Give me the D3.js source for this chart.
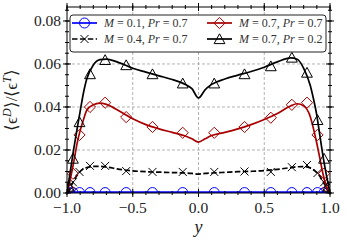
<!DOCTYPE html>
<html>
<head>
<meta charset="utf-8">
<script src="https://cdn.jsdelivr.net/npm/d3@7"></script>
<style>
  body { margin: 0; background: #fff; }
</style>
</head>
<body>
<svg id="chart"></svg>
<script>
const WIDTH = 347;
const HEIGHT = 244;
const FONT = "'Liberation Serif'";

// curve samples (wall-normal coordinate y)
const curveX = [-1, -0.98, -0.95, -0.92, -0.9, -0.87, -0.85, -0.8, -0.75, -0.7, -0.6, -0.5, -0.4, -0.3, -0.2, -0.1, -0.05, 0,
                0.05, 0.1, 0.2, 0.3, 0.4, 0.5, 0.6, 0.7, 0.75, 0.8, 0.85, 0.87, 0.9, 0.92, 0.95, 0.98, 1];
const curveM01 = [0, 0.0003, 0.0004, 0.0004, 0.0004, 0.0004, 0.0004, 0.0004, 0.0004, 0.0004, 0.0004, 0.0004, 0.0004, 0.0004, 0.0004, 0.0004, 0.0004, 0.0004,
                  0.0004, 0.0004, 0.0004, 0.0004, 0.0004, 0.0004, 0.0004, 0.0004, 0.0004, 0.0004, 0.0004, 0.0004, 0.0004, 0.0004, 0.0004, 0.0003, 0];
const curveM04 = [0, 0.002, 0.0055, 0.0085, 0.0100, 0.0113, 0.0118, 0.0124, 0.0124, 0.0121, 0.0110, 0.0103, 0.0099, 0.0097, 0.0095, 0.0093, 0.0091, 0.0088,
                  0.0091, 0.0093, 0.0096, 0.0099, 0.0101, 0.0104, 0.0110, 0.0118, 0.0122, 0.0123, 0.0117, 0.0110, 0.0095, 0.0080, 0.0050, 0.0018, 0];
const curveM07 = [0, 0.005, 0.014, 0.024, 0.029, 0.035, 0.0385, 0.041, 0.0418, 0.0412, 0.038, 0.0345, 0.0318, 0.0298, 0.0282, 0.0265, 0.0252, 0.0237,
                  0.0252, 0.0267, 0.0282, 0.0298, 0.0318, 0.0342, 0.037, 0.0405, 0.0415, 0.0405, 0.0355, 0.031, 0.023, 0.017, 0.008, 0.002, 0];
const curveM07Pr02 = [0, 0.008, 0.02, 0.031, 0.038, 0.048, 0.053, 0.0595, 0.062, 0.0623, 0.0605, 0.058, 0.0562, 0.0545, 0.0528, 0.0505, 0.0485, 0.0442,
                      0.048, 0.0505, 0.053, 0.0548, 0.0565, 0.0585, 0.061, 0.0628, 0.0622, 0.058, 0.050, 0.045, 0.036, 0.028, 0.016, 0.006, 0];

// marker samples
const markerX = [-0.985, -0.955, -0.905, -0.825, -0.71, -0.55, -0.35, -0.12, 0.12, 0.35, 0.55, 0.71, 0.825, 0.905, 0.955, 0.985];
const markerM01 = [0.0002, 0.0002, 0.0002, 0.0002, 0.0002, 0.0002, 0.0002, 0.0002, 0.0002, 0.0002, 0.0002, 0.0002, 0.0002, 0.0002, 0.0002, 0.0002];
const markerM04 = [0.001, 0.005, 0.0098, 0.0126, 0.0126, 0.0102, 0.0098, 0.0098, 0.0098, 0.0100, 0.0098, 0.0120, 0.0130, 0.0093, 0.005, 0.001];
const markerM07 = [0.002, 0.009, 0.027, 0.040, 0.042, 0.0353, 0.0307, 0.028, 0.028, 0.0307, 0.035, 0.041, 0.042, 0.027, 0.009, 0.002];
const markerM07Pr02 = [0.003, 0.016, 0.033, 0.0553, 0.0619, 0.0595, 0.0553, 0.051, 0.051, 0.0553, 0.059, 0.063, 0.056, 0.034, 0.016, 0.003];

const xTicks = [-1, -0.5, 0, 0.5, 1];
const yTicks = [0, 0.02, 0.04, 0.06, 0.08];
const xMinor = d3.range(-1, 1.0001, 0.1);
const yMinor = d3.range(0, 0.0866, 0.005);

const seriesNames = ["M01", "M04", "M07", "M07Pr02"];
const seriesM = ["0.1", "0.4", "0.7", "0.7"];
const seriesPr = ["0.7", "0.7", "0.7", "0.2"];

const series = [
  {curve: curveM01, marks: markerM01, color: "#0000ff", dash: null, marker: "circle"},
  {curve: curveM04, marks: markerM04, color: "#000000", dash: "5.5,2.4", marker: "x"},
  {curve: curveM07, marks: markerM07, color: "#a80000", dash: null, marker: "diamond"},
  {curve: curveM07Pr02, marks: markerM07Pr02, color: "#000000", dash: null, marker: "triangle"}
];

const margin = {left: 67, top: 7, right: 17, bottom: 51};
const plotW = WIDTH - margin.left - margin.right;
const plotH = HEIGHT - margin.top - margin.bottom;

const svg = d3.select("#chart")
  .attr("width", WIDTH).attr("height", HEIGHT);

const x = d3.scaleLinear().domain([-1, 1]).range([margin.left, margin.left + plotW]);
const y = d3.scaleLinear().domain([0, 0.0865]).range([margin.top + plotH, margin.top]);

function markerPath(type) {
  switch (type) {
    case "circle": return "M5,0A5,5 0 1,1 -5,0A5,5 0 1,1 5,0Z";
    case "diamond": return "M0,-5.6L5.6,0L0,5.6L-5.6,0Z";
    case "triangle": return "M0,-5.2L5.4,4.6L-5.4,4.6Z";
    case "x": return "M-4,-4L4,4M-4,4L4,-4";
  }
}

svg.append("defs").append("clipPath").attr("id", "clip")
  .append("rect")
  .attr("x", margin.left).attr("y", margin.top)
  .attr("width", plotW).attr("height", plotH);

// grid
const grid = svg.append("g").attr("class", "grid")
  .attr("stroke", "#a0a0a0").attr("stroke-width", 0.8).attr("stroke-dasharray", "3,2");
grid.selectAll(".gx").data(xTicks.slice(1, -1)).enter().append("line")
  .attr("x1", d => x(d)).attr("x2", d => x(d))
  .attr("y1", margin.top).attr("y2", margin.top + plotH);
grid.selectAll(".gy").data(yTicks.slice(1)).enter().append("line")
  .attr("y1", d => y(d)).attr("y2", d => y(d))
  .attr("x1", margin.left).attr("x2", margin.left + plotW);

// curves and markers
const plot = svg.append("g").attr("clip-path", "url(#clip)");
const line = d3.line()
  .x((d, i) => x(curveX[i]))
  .y(d => y(d))
  .curve(d3.curveMonotoneX);

series.forEach(s => {
  plot.append("path")
    .attr("d", line(s.curve))
    .attr("fill", "none")
    .attr("stroke", s.color)
    .attr("stroke-width", 1.7)
    .attr("stroke-dasharray", s.dash);
  plot.selectAll(null).data(s.marks).enter().append("path")
    .attr("d", markerPath(s.marker))
    .attr("transform", (d, i) => "translate(" + x(markerX[i]) + "," + y(d) + ")")
    .attr("fill", "none")
    .attr("stroke", s.color)
    .attr("stroke-width", 1);
});

// frame
svg.append("rect")
  .attr("x", margin.left).attr("y", margin.top)
  .attr("width", plotW).attr("height", plotH)
  .attr("fill", "none").attr("stroke", "#000").attr("stroke-width", 1);

// ticks on all four sides (in and out)
const ticks = svg.append("g").attr("stroke", "#000").attr("stroke-width", 1);
function hTicks(vals, len) {
  [margin.top, margin.top + plotH].forEach(yy => {
    ticks.selectAll(null).data(vals).enter().append("line")
      .attr("x1", d => x(d)).attr("x2", d => x(d))
      .attr("y1", yy - len).attr("y2", yy + len);
  });
}
function vTicks(vals, len) {
  [margin.left, margin.left + plotW].forEach(xx => {
    ticks.selectAll(null).data(vals).enter().append("line")
      .attr("y1", d => y(d)).attr("y2", d => y(d))
      .attr("x1", xx - len).attr("x2", xx + len);
  });
}
hTicks(xTicks, 4);
hTicks(xMinor, 2);
vTicks(yTicks, 4);
vTicks(yMinor, 2);

// tick labels
const fmtX = d => d3.format(".1f")(d).replace("-", "\u2212");
svg.selectAll(".xl").data(xTicks).enter().append("text")
  .attr("x", d => x(d)).attr("y", margin.top + plotH + 20)
  .attr("text-anchor", "middle").attr("font-size", 15.5).attr("fill", "#222")
  .style("font-family", FONT)
  .text(fmtX);
svg.selectAll(".yl").data(yTicks).enter().append("text")
  .attr("x", margin.left - 6).attr("y", d => y(d) + 5)
  .attr("text-anchor", "end").attr("font-size", 15.5).attr("fill", "#222")
  .style("font-family", FONT)
  .text(d => d3.format(".2f")(d));

// axis titles
svg.append("text")
  .attr("x", x(0)).attr("y", 233)
  .attr("text-anchor", "middle").attr("font-size", 18).attr("font-style", "italic")
  .attr("fill", "#222")
  .style("font-family", FONT)
  .text("y");

const ylab = svg.append("text")
  .attr("transform", "translate(17," + (margin.top + plotH / 2) + ") rotate(-90)")
  .attr("text-anchor", "middle").attr("font-size", 17).attr("fill", "#222")
  .style("font-family", FONT);
ylab.append("tspan").text("\u27E8\u03F5");
ylab.append("tspan").attr("font-size", 12).attr("font-style", "italic").attr("dy", -6).text("D");
ylab.append("tspan").attr("dy", 6).text("\u27E9/\u27E8\u03F5");
ylab.append("tspan").attr("font-size", 12).attr("font-style", "italic").attr("dy", -6).text("T");
ylab.append("tspan").attr("dy", 6).text("\u27E9");

// legend
const legend = svg.append("g");
legend.append("rect")
  .attr("x", 70).attr("y", 15).attr("width", 256).attr("height", 37).attr("rx", 3)
  .attr("fill", "#fff").attr("stroke", "#222").attr("stroke-width", 1);

const legendPos = [[72, 23], [72, 39], [207, 23], [207, 39]];
series.forEach((s, i) => {
  const [lx, ly] = legendPos[i];
  const g = legend.append("g").attr("class", "leg-" + seriesNames[i]);
  g.append("line")
    .attr("x1", lx).attr("x2", lx + 25).attr("y1", ly).attr("y2", ly)
    .attr("stroke", s.color).attr("stroke-width", 1.7).attr("stroke-dasharray", s.dash);
  g.append("path")
    .attr("d", markerPath(s.marker))
    .attr("transform", "translate(" + (lx + 12.5) + "," + ly + ")")
    .attr("fill", "none").attr("stroke", s.color).attr("stroke-width", 1);
  const t = g.append("text").attr("x", lx + 32).attr("y", ly + 4)
    .attr("font-size", 12).attr("fill", "#333")
    .style("font-family", FONT);
  t.append("tspan").attr("font-style", "italic").text("M");
  t.append("tspan").text(" = " + seriesM[i] + ", ");
  t.append("tspan").attr("font-style", "italic").text("Pr");
  t.append("tspan").text(" = " + seriesPr[i]);
});
</script>
</body>
</html>
